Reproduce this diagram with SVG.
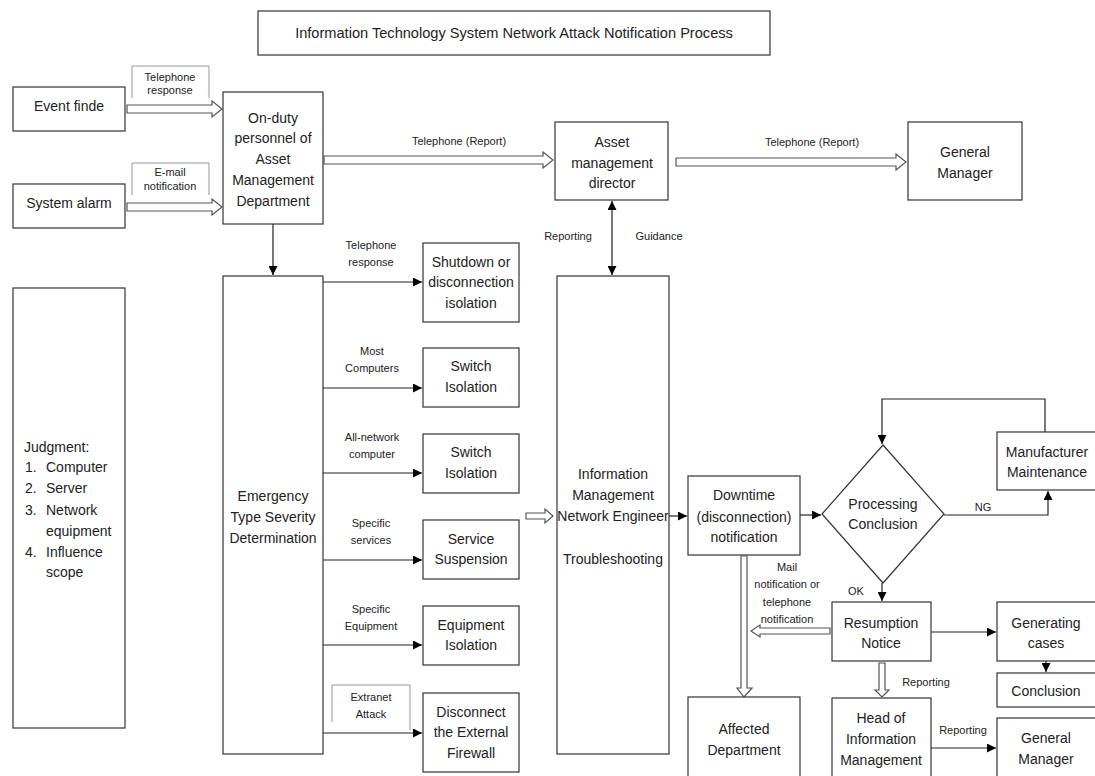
<svg xmlns="http://www.w3.org/2000/svg" width="1095" height="776" viewBox="0 0 1095 776">
<defs>
<style>
.box{fill:#fff;stroke:#333;stroke-width:1.2}
.lbl{fill:none;stroke:#999;stroke-width:1}
.t{font-family:"Liberation Sans",Arial,sans-serif;font-size:14px;fill:#222;text-anchor:middle}
.s{font-family:"Liberation Sans",Arial,sans-serif;font-size:11px;fill:#222;text-anchor:middle}
.j{font-family:"Liberation Sans",Arial,sans-serif;font-size:14px;fill:#222}
.ln{fill:none;stroke:#222;stroke-width:1.2}
.ha{fill:#fff;stroke:#555;stroke-width:1.2}
</style>
<marker id="ah" viewBox="0 0 10 10" refX="10" refY="5" markerWidth="10" markerHeight="9" markerUnits="userSpaceOnUse" orient="auto-start-reverse">
<path d="M0,0 L10,5 L0,10 z" fill="#000"/>
</marker>
</defs>
<rect width="1095" height="776" fill="#fff"/>

<g id="title">
<rect class="box" x="258" y="11" width="512" height="44"/>
<text class="t" x="514" y="38" style="font-size:14.6px">Information Technology System Network Attack Notification Process</text>
</g>

<g id="event-finde">
<rect class="box" x="13" y="87" width="112" height="44"/>
<text class="t" x="69" y="111">Event finde</text>
</g>
<g id="system-alarm">
<rect class="box" x="13" y="184" width="112" height="44"/>
<text class="t" x="69" y="208">System alarm</text>
</g>
<g id="on-duty">
<rect class="box" x="223" y="92" width="100" height="132"/>
<text class="t" x="273" y="123">On-duty</text>
<text class="t" x="273" y="143">personnel of</text>
<text class="t" x="273" y="164">Asset</text>
<text class="t" x="273" y="185">Management</text>
<text class="t" x="273" y="206">Department</text>
</g>
<g id="asset-director">
<rect class="box" x="555" y="122" width="113" height="78"/>
<text class="t" x="612" y="147">Asset</text>
<text class="t" x="612" y="168">management</text>
<text class="t" x="612" y="188">director</text>
</g>
<g id="general-manager-top">
<rect class="box" x="908" y="122" width="114" height="78"/>
<text class="t" x="965" y="157">General</text>
<text class="t" x="965" y="178">Manager</text>
</g>
<g id="judgment">
<rect class="box" x="13" y="288" width="112" height="440"/>
<text class="j" x="24" y="452">Judgment:</text>
<text class="j" x="25" y="472">1.</text><text class="j" x="46" y="472">Computer</text>
<text class="j" x="25" y="493">2.</text><text class="j" x="46" y="493">Server</text>
<text class="j" x="25" y="515">3.</text><text class="j" x="46" y="515">Network</text>
<text class="j" x="46" y="536">equipment</text>
<text class="j" x="25" y="557">4.</text><text class="j" x="46" y="557">Influence</text>
<text class="j" x="46" y="577">scope</text>
</g>
<g id="emergency">
<rect class="box" x="223" y="276" width="100" height="478"/>
<text class="t" x="273" y="501">Emergency</text>
<text class="t" x="273" y="522">Type Severity</text>
<text class="t" x="273" y="543">Determination</text>
</g>
<g id="shutdown">
<rect class="box" x="423" y="243" width="96" height="79"/>
<text class="t" x="471" y="267">Shutdown or</text>
<text class="t" x="471" y="287">disconnection</text>
<text class="t" x="471" y="308">isolation</text>
</g>
<g id="switch-1">
<rect class="box" x="423" y="348" width="96" height="59"/>
<text class="t" x="471" y="371">Switch</text>
<text class="t" x="471" y="392">Isolation</text>
</g>
<g id="switch-2">
<rect class="box" x="423" y="434" width="96" height="59"/>
<text class="t" x="471" y="457">Switch</text>
<text class="t" x="471" y="478">Isolation</text>
</g>
<g id="service-suspension">
<rect class="box" x="423" y="520" width="96" height="59"/>
<text class="t" x="471" y="544">Service</text>
<text class="t" x="471" y="564">Suspension</text>
</g>
<g id="equipment-isolation">
<rect class="box" x="423" y="606" width="96" height="59"/>
<text class="t" x="471" y="630">Equipment</text>
<text class="t" x="471" y="650">Isolation</text>
</g>
<g id="disconnect-firewall">
<rect class="box" x="423" y="693" width="96" height="79"/>
<text class="t" x="471" y="717">Disconnect</text>
<text class="t" x="471" y="737">the External</text>
<text class="t" x="471" y="758">Firewall</text>
</g>
<g id="info-engineer">
<rect class="box" x="557" y="276" width="112" height="478"/>
<text class="t" x="613" y="479">Information</text>
<text class="t" x="613" y="500">Management</text>
<text class="t" x="613" y="521">Network Engineer</text>
<text class="t" x="613" y="564">Troubleshooting</text>
</g>
<g id="downtime">
<rect class="box" x="688" y="476" width="112" height="79"/>
<text class="t" x="744" y="500">Downtime</text>
<text class="t" x="744" y="522">(disconnection)</text>
<text class="t" x="744" y="542">notification</text>
</g>
<g id="processing">
<polygon class="box" points="883,445 944,514 883,583 822,514"/>
<text class="t" x="883" y="509">Processing</text>
<text class="t" x="883" y="529">Conclusion</text>
</g>
<g id="manufacturer">
<rect class="box" x="997" y="432" width="100" height="58"/>
<text class="t" x="1047" y="457">Manufacturer</text>
<text class="t" x="1047" y="477">Maintenance</text>
</g>
<g id="resumption">
<rect class="box" x="832" y="602" width="99" height="59"/>
<text class="t" x="881" y="628">Resumption</text>
<text class="t" x="881" y="648">Notice</text>
</g>
<g id="generating">
<rect class="box" x="997" y="602" width="100" height="59"/>
<text class="t" x="1046" y="628">Generating</text>
<text class="t" x="1046" y="648">cases</text>
</g>
<g id="conclusion">
<rect class="box" x="997" y="673" width="100" height="34"/>
<text class="t" x="1046" y="696">Conclusion</text>
</g>
<g id="affected">
<rect class="box" x="688" y="697" width="112" height="90"/>
<text class="t" x="744" y="734">Affected</text>
<text class="t" x="744" y="755">Department</text>
</g>
<g id="head-info">
<rect class="box" x="832" y="698" width="99" height="90"/>
<text class="t" x="881" y="723">Head of</text>
<text class="t" x="881" y="744">Information</text>
<text class="t" x="881" y="765">Management</text>
</g>
<g id="general-manager-bottom">
<rect class="box" x="997" y="718" width="100" height="70"/>
<text class="t" x="1046" y="743">General</text>
<text class="t" x="1046" y="764">Manager</text>
</g>

<g id="connectors">
<polygon class="ha" points="127,105 212,105 212,101 222,109 212,117 212,113 127,113"/>
<polygon class="ha" points="127,203 212,203 212,199 222,207 212,215 212,211 127,211"/>
<polygon class="ha" points="324,156 543,156 543,152 553,160 543,168 543,164 324,164"/>
<polygon class="ha" points="676,158 896,158 896,154 906,162 896,170 896,166 676,166"/>
<polygon class="ha" points="526,513 545,513 545,509 553,516 545,523 545,519 526,519"/>
<polygon class="ha" points="830,628 760,628 760,625 751,631 760,637 760,634 830,634"/>
<polygon class="ha" points="741,556 747,556 747,688 752,688 744,697 737,688 741,688"/>
<polygon class="ha" points="879,663 885,663 885,690 889,690 882,697 875,690 879,690"/>
<path class="lbl" d="M132,98 V66 H209 V98"/>
<path class="lbl" d="M132,195 V163 H209 V195"/>
<path class="lbl" d="M332,722 V685 H410 V730"/>
<line class="ln" x1="273" y1="224" x2="273" y2="275" marker-end="url(#ah)"/>
<line class="ln" x1="612" y1="201" x2="612" y2="275" marker-start="url(#ah)" marker-end="url(#ah)"/>
<line class="ln" x1="323" y1="282" x2="422" y2="282" marker-end="url(#ah)"/>
<line class="ln" x1="323" y1="388" x2="422" y2="388" marker-end="url(#ah)"/>
<line class="ln" x1="323" y1="473" x2="422" y2="473" marker-end="url(#ah)"/>
<line class="ln" x1="323" y1="560" x2="422" y2="560" marker-end="url(#ah)"/>
<line class="ln" x1="323" y1="645" x2="422" y2="645" marker-end="url(#ah)"/>
<line class="ln" x1="323" y1="733" x2="422" y2="733" marker-end="url(#ah)"/>
<line class="ln" x1="669" y1="516" x2="687" y2="516" marker-end="url(#ah)"/>
<line class="ln" x1="800" y1="515" x2="821" y2="515" marker-end="url(#ah)"/>
<polyline class="ln" points="944,515 1048,515 1048,491" marker-end="url(#ah)"/>
<polyline class="ln" points="1045,432 1045,399 882,399 882,444" marker-end="url(#ah)"/>
<line class="ln" x1="882" y1="583" x2="882" y2="601" marker-end="url(#ah)"/>
<line class="ln" x1="931" y1="632" x2="996" y2="632" marker-end="url(#ah)"/>
<line class="ln" x1="1046" y1="661" x2="1046" y2="672" marker-end="url(#ah)"/>
<line class="ln" x1="931" y1="748" x2="996" y2="748" marker-end="url(#ah)"/>
<text class="s" x="170" y="81">Telephone</text>
<text class="s" x="170" y="94">response</text>
<text class="s" x="170" y="176">E-mail</text>
<text class="s" x="170" y="190">notification</text>
<text class="s" x="459" y="145">Telephone (Report)</text>
<text class="s" x="812" y="146">Telephone (Report)</text>
<text class="s" x="568" y="240">Reporting</text>
<text class="s" x="659" y="240">Guidance</text>
<text class="s" x="371" y="249">Telephone</text>
<text class="s" x="371" y="266">response</text>
<text class="s" x="372" y="355">Most</text>
<text class="s" x="372" y="372">Computers</text>
<text class="s" x="372" y="441">All-network</text>
<text class="s" x="372" y="458">computer</text>
<text class="s" x="371" y="527">Specific</text>
<text class="s" x="371" y="544">services</text>
<text class="s" x="371" y="613">Specific</text>
<text class="s" x="371" y="630">Equipment</text>
<text class="s" x="371" y="701">Extranet</text>
<text class="s" x="371" y="718">Attack</text>
<text class="s" x="983" y="511">NG</text>
<text class="s" x="856" y="595">OK</text>
<text class="s" x="787" y="571">Mail</text>
<text class="s" x="787" y="588">notification or</text>
<text class="s" x="787" y="606">telephone</text>
<text class="s" x="787" y="623">notification</text>
<text class="s" x="926" y="686">Reporting</text>
<text class="s" x="963" y="734">Reporting</text>
</g>
</svg>
